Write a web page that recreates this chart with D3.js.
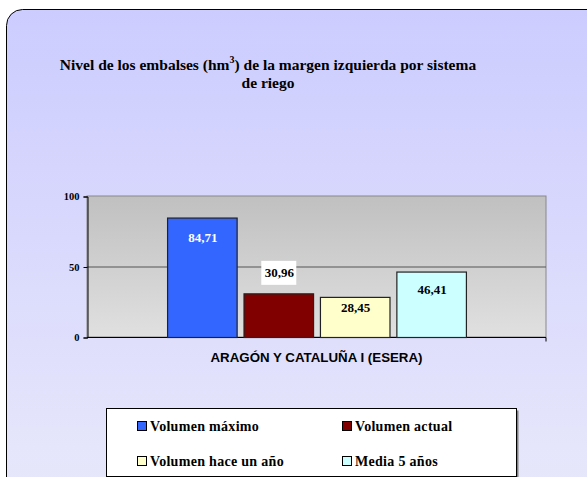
<!DOCTYPE html>
<html><head><meta charset="utf-8">
<script src="https://cdn.jsdelivr.net/npm/d3@7"></script>
<style>body{margin:0;background:#fff}svg{display:block}</style>
</head><body>
<script>
const categories = ["ARAGÓN Y CATALUÑA I (ESERA)"];
const seriesNames = ["Volumen máximo", "Volumen actual", "Volumen hace un año", "Media 5 años"];
const seriesValues = [84.71, 30.96, 28.45, 46.41];
const seriesColors = ["#3366ff", "#800000", "#ffffcc", "#ccffff"];
const labelColors = ["#ffffff", "#000000", "#000000", "#000000"];
const yTicks = [0, 50, 100];

const W = 587, H = 477;
const SERIF = "Liberation Serif, Times New Roman, serif";
const svg = d3.select("body").append("svg").attr("width", W).attr("height", H);
const defs = svg.append("defs");
const bg = defs.append("linearGradient").attr("id","bg").attr("x1",0).attr("y1",0).attr("x2",0).attr("y2",1);
bg.append("stop").attr("offset","0%").attr("stop-color","#ccccff");
bg.append("stop").attr("offset","100%").attr("stop-color","#e8e8fb");
const pg = defs.append("linearGradient").attr("id","pg").attr("x1",0).attr("y1",0).attr("x2",0).attr("y2",1);
pg.append("stop").attr("offset","0%").attr("stop-color","#c0c0c0");
pg.append("stop").attr("offset","100%").attr("stop-color","#e0e0e0");

svg.append("rect").attr("x",6.5).attr("y",9.5).attr("width",600).attr("height",490)
  .attr("rx",16).attr("fill","url(#bg)").attr("stroke","#000").attr("stroke-width",1);

// Title
const title = svg.append("text").attr("text-anchor","middle")
  .attr("font-family",SERIF).attr("font-weight","bold")
  .attr("font-size","15.5px").attr("fill","#000");
const t1 = title.append("tspan").attr("x",268).attr("y",70);
t1.append("tspan").text("Nivel de los embalses (hm");
t1.append("tspan").attr("dy",-7).attr("font-size","10px").text("3");
t1.append("tspan").attr("dy",7).text(") de la margen izquierda por sistema");
title.append("tspan").attr("x",268).attr("y",88).text("de riego");

const plot = {left: 87, right: 546, top: 196, bottom: 337};
const x0 = d3.scaleBand().domain(categories).range([plot.left, plot.right]).paddingInner(0).paddingOuter(0.268);
const x1 = d3.scaleBand().domain(seriesNames).range([0, x0.bandwidth()]).paddingInner(0.09).paddingOuter(0);
const y = d3.scaleLinear().domain([0, 100]).range([plot.bottom, plot.top]);

svg.append("rect").attr("x",plot.left).attr("y",plot.top).attr("width",plot.right-plot.left)
  .attr("height",plot.bottom-plot.top).attr("fill","url(#pg)").attr("stroke","#888").attr("stroke-width",1);

svg.append("g").selectAll("line").data(yTicks.filter(d=>d>0 && d<100)).join("line")
  .attr("x1",plot.left).attr("x2",plot.right).attr("y1",d=>y(d)+0.5).attr("y2",d=>y(d)+0.5)
  .attr("stroke","#555").attr("stroke-width",1);

const yAxis = svg.append("g").attr("transform",`translate(${plot.left+0.5},0.5)`)
  .call(d3.axisLeft(y).tickValues(yTicks).tickSize(4).tickPadding(4).tickFormat(d3.format("d")));
yAxis.select(".domain").attr("stroke","#000");
yAxis.selectAll(".tick line").attr("stroke","#000");
yAxis.selectAll("text").attr("font-family",SERIF)
  .attr("font-weight","bold").attr("font-size","10.5px").attr("fill","#000");

const xAxis = svg.append("g").attr("transform",`translate(0,${plot.bottom+0.5})`)
  .call(d3.axisBottom(x0).tickSize(0).tickPadding(15));
xAxis.select(".domain").attr("stroke","#000").attr("d",`M${plot.left},0H${plot.right}V4`);
xAxis.selectAll("text").attr("font-family","Liberation Sans, Arial, sans-serif")
  .attr("font-weight","bold").attr("font-size","13.3px").attr("fill","#000")
  .attr("dy","0.71em");

const data = seriesNames.map((n,i)=>({name:n, value:seriesValues[i], color:seriesColors[i], lc:labelColors[i], cat:categories[0]}));
const g = svg.append("g");
g.selectAll("rect").data(data).join("rect")
  .attr("x",d=>x0(d.cat)+x1(d.name)+0.5).attr("y",d=>y(d.value)+0.5)
  .attr("width",x1.bandwidth()).attr("height",d=>y(0)-y(d.value))
  .attr("fill",d=>d.color).attr("stroke","#222").attr("stroke-width",1.2);

const fmt = v => d3.format(".2f")(v).replace(".", ",");
// label centre offsets from bar top (Excel placement)
const labelOffset = [20, -20.5, 11, 17.5];
data.forEach((d,i)=>{
  const cx = x0(d.cat)+x1(d.name)+x1.bandwidth()/2;
  const cy = y(d.value) + labelOffset[i];
  if (i===1) {
    g.append("rect").attr("x",cx-17).attr("y",cy-12).attr("width",35).attr("height",24).attr("fill","#fff");
  }
  g.append("text").attr("x",cx+1).attr("y",cy+4.5).attr("text-anchor","middle")
    .attr("font-family",SERIF).attr("font-weight","bold")
    .attr("font-size","13px").attr("fill",d.lc).text(fmt(d.value));
});

// Legend
const lg = svg.append("g");
lg.append("rect").attr("x",108.5).attr("y",410.5).attr("width",410).attr("height",68).attr("fill","#808080");
lg.append("rect").attr("x",106.5).attr("y",408.5).attr("width",410).attr("height",68).attr("fill","#fff").attr("stroke","#000");
const pos = [[137,426],[342,426],[137,461],[342,461]];
data.forEach((d,i)=>{
  const [lx,ly] = pos[i];
  lg.append("rect").attr("x",lx+0.5).attr("y",ly-4.5).attr("width",9).attr("height",9)
    .attr("fill",d.color).attr("stroke","#000");
  lg.append("text").attr("x",lx+13).attr("y",ly+5)
    .attr("font-family",SERIF).attr("font-weight","bold").attr("letter-spacing","0.3px")
    .attr("font-size","14px").attr("fill","#000").text(d.name);
});
</script>
</body></html>
